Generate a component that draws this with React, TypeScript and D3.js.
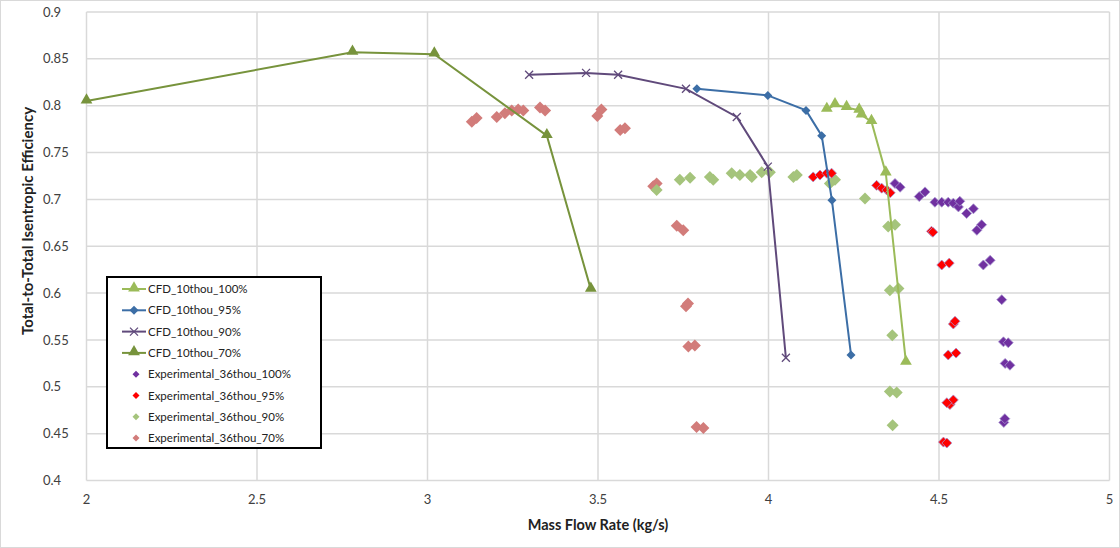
import React, { useEffect, useRef } from "react";
import * as d3 from "d3";

// ---- data ----
const cfd100X = [4.171, 4.195, 4.229, 4.266, 4.273, 4.302, 4.344, 4.403];
const cfd100Y = [0.796, 0.801, 0.798, 0.795, 0.79, 0.783, 0.728, 0.526];

const cfd95X = [3.79, 3.998, 4.11, 4.156, 4.186, 4.242];
const cfd95Y = [0.818, 0.811, 0.795, 0.768, 0.699, 0.534];

const cfd90X = [3.298, 3.465, 3.559, 3.758, 3.907, 3.998, 4.051];
const cfd90Y = [0.833, 0.835, 0.833, 0.818, 0.788, 0.735, 0.531];

const cfd70X = [2.0, 2.78, 3.02, 3.35, 3.479];
const cfd70Y = [0.805, 0.857, 0.855, 0.768, 0.604];

const exp100X = [4.371, 4.386, 4.442, 4.459, 4.488, 4.508, 4.527, 4.542, 4.557, 4.561, 4.581, 4.601, 4.611, 4.625, 4.63, 4.65, 4.684, 4.689, 4.703, 4.694, 4.708, 4.69, 4.693];
const exp100Y = [0.717, 0.713, 0.703, 0.708, 0.697, 0.697, 0.697, 0.696, 0.692, 0.698, 0.685, 0.69, 0.667, 0.673, 0.63, 0.635, 0.593, 0.548, 0.547, 0.525, 0.523, 0.462, 0.466];

const exp95X = [4.131, 4.151, 4.171, 4.185, 4.317, 4.332, 4.347, 4.357, 4.478, 4.482, 4.508, 4.53, 4.542, 4.547, 4.527, 4.55, 4.532, 4.542, 4.523, 4.513, 4.523];
const exp95Y = [0.724, 0.726, 0.728, 0.728, 0.715, 0.712, 0.71, 0.707, 0.666, 0.665, 0.63, 0.632, 0.567, 0.57, 0.534, 0.536, 0.481, 0.486, 0.483, 0.441, 0.44];

const exp90X = [3.672, 3.74, 3.77, 3.828, 3.838, 3.892, 3.916, 3.946, 3.951, 3.98, 4.004, 4.073, 4.083, 4.18, 4.195, 4.283, 4.351, 4.371, 4.356, 4.381, 4.363, 4.356, 4.376, 4.364];
const exp90Y = [0.71, 0.721, 0.723, 0.724, 0.721, 0.728, 0.726, 0.726, 0.724, 0.729, 0.729, 0.724, 0.726, 0.717, 0.721, 0.701, 0.671, 0.673, 0.603, 0.605, 0.555, 0.495, 0.494, 0.459];

const exp70X = [3.13, 3.144, 3.203, 3.227, 3.247, 3.266, 3.281, 3.33, 3.345, 3.498, 3.51, 3.565, 3.579, 3.662, 3.672, 3.731, 3.75, 3.758, 3.764, 3.765, 3.784, 3.789, 3.809];
const exp70Y = [0.783, 0.787, 0.788, 0.792, 0.795, 0.796, 0.795, 0.798, 0.795, 0.789, 0.796, 0.774, 0.776, 0.714, 0.717, 0.672, 0.667, 0.586, 0.589, 0.543, 0.544, 0.457, 0.456];

const xTicks = [2, 2.5, 3, 3.5, 4, 4.5, 5];
const yTicks = [0.4, 0.45, 0.5, 0.55, 0.6, 0.65, 0.7, 0.75, 0.8, 0.85, 0.9];

const lineSeries = [
  { name: "CFD_10thou_100%", xs: cfd100X, ys: cfd100Y, color: "#9BBB59", marker: "triangle" },
  { name: "CFD_10thou_95%", xs: cfd95X, ys: cfd95Y, color: "#3C6EA6", marker: "diamond" },
  { name: "CFD_10thou_90%", xs: cfd90X, ys: cfd90Y, color: "#604A7B", marker: "x" },
  { name: "CFD_10thou_70%", xs: cfd70X, ys: cfd70Y, color: "#77933C", marker: "triangle" },
];
const scatterSeries = [
  { name: "Experimental_36thou_100%", xs: exp100X, ys: exp100Y, color: "#7030A0", stroke: "#A795CF", size: 10 },
  { name: "Experimental_36thou_95%", xs: exp95X, ys: exp95Y, color: "#FF0000", stroke: "#A795CF", size: 10 },
  { name: "Experimental_36thou_90%", xs: exp90X, ys: exp90Y, color: "#A5C47C", stroke: "none", size: 12 },
  { name: "Experimental_36thou_70%", xs: exp70X, ys: exp70Y, color: "#D27C7A", stroke: "none", size: 12 },
];

const W = 1120;
const H = 548;

export default function App() {
  const ref = useRef<SVGSVGElement>(null);
  useEffect(() => {
    const svg = d3.select(ref.current);
    svg.selectAll("*").remove();
    const font = "Lato, 'Open Sans', sans-serif";
    const x = d3.scaleLinear().domain([2, 5]).range([86.5, 1109.5]);
    const y = d3.scaleLinear().domain([0.4, 0.9]).range([480.5, 12]);

    svg.append("rect").attr("x", 0.5).attr("y", 0.5).attr("width", W - 1).attr("height", H - 1)
      .attr("fill", "#fff").attr("stroke", "#D9D9D9");

    // gridlines
    const g = svg.append("g");
    g.selectAll("line.h").data(yTicks).join("line")
      .attr("x1", x(2)).attr("x2", x(5)).attr("y1", (d) => y(d)).attr("y2", (d) => y(d))
      .attr("stroke", "#D9D9D9").attr("stroke-width", 1.5);
    g.selectAll("line.v").data(xTicks).join("line")
      .attr("y1", y(0.4)).attr("y2", y(0.9)).attr("x1", (d) => x(d)).attr("x2", (d) => x(d))
      .attr("stroke", "#D9D9D9").attr("stroke-width", 1.5);

    // tick labels
    svg.append("g").selectAll("text").data(yTicks).join("text")
      .attr("x", 43).attr("y", (d) => y(d)).attr("dy", "0.35em")
      .attr("font-family", font).attr("font-size", 13).attr("fill", "#404040")
      .text((d) => d3.format("")(d));
    svg.append("g").selectAll("text").data(xTicks).join("text")
      .attr("x", (d) => x(d)).attr("y", 499).attr("dy", "0.35em").attr("text-anchor", "middle")
      .attr("font-family", font).attr("font-size", 13).attr("fill", "#404040")
      .text((d) => d3.format("")(d));

    // axis titles
    svg.append("text").attr("x", 598).attr("y", 525).attr("dy", "0.35em").attr("text-anchor", "middle")
      .attr("font-family", font).attr("font-weight", "bold").attr("font-size", 14.5).attr("fill", "#222")
      .text("Mass Flow Rate (kg/s)");
    svg.append("text").attr("transform", "translate(28,221) rotate(-90)").attr("dy", "0.35em")
      .attr("text-anchor", "middle").attr("font-family", font).attr("font-weight", "bold")
      .attr("font-size", 15).attr("fill", "#222").text("Total-to-Total Isentropic Efficiency");

    const tri = d3.symbol().type(d3.symbolTriangle).size(60);
    const dia = (s: number) => `M0,${-s / 2}L${s / 2},0L0,${s / 2}L${-s / 2},0Z`;

    const drawMarker = (sel: any, marker: string, color: string) => {
      if (marker === "triangle") sel.append("path").attr("d", tri()).attr("fill", color).attr("transform", "translate(0,-1)");
      else if (marker === "diamond") sel.append("path").attr("d", dia(9)).attr("fill", color);
      else sel.append("path").attr("d", "M-4,-4L4,4M-4,4L4,-4").attr("stroke", color).attr("stroke-width", 1.3).attr("fill", "none");
    };

    // scatter series
    scatterSeries.slice().reverse().forEach((s) => {
      const gg = svg.append("g");
      s.xs.forEach((xv, i) => {
        gg.append("path").attr("d", dia(s.size)).attr("transform", `translate(${x(xv)},${y(s.ys[i])})`)
          .attr("fill", s.color).attr("stroke", s.stroke).attr("stroke-width", 0.8);
      });
    });

    // line series
    lineSeries.slice().reverse().forEach((s) => {
      const pts: [number, number][] = s.xs.map((xv, i) => [x(xv), y(s.ys[i])]);
      svg.append("path").attr("d", d3.line()(pts)).attr("fill", "none").attr("stroke", s.color).attr("stroke-width", 2);
      pts.forEach((p) => {
        const m = svg.append("g").attr("transform", `translate(${p[0]},${p[1]})`);
        drawMarker(m, s.marker, s.color);
      });
    });

    // legend
    const lg = svg.append("g");
    lg.append("rect").attr("x", 107).attr("y", 277).attr("width", 214).attr("height", 171)
      .attr("fill", "#fff").attr("stroke", "#000").attr("stroke-width", 2);
    const rowY = (i: number) => 289 + i * 21.3;
    lineSeries.forEach((s, i) => {
      const yy = rowY(i);
      lg.append("line").attr("x1", 122).attr("x2", 146).attr("y1", yy).attr("y2", yy).attr("stroke", s.color).attr("stroke-width", 2);
      const m = lg.append("g").attr("transform", `translate(134,${yy})`);
      drawMarker(m, s.marker, s.color);
      lg.append("text").attr("x", 148).attr("y", yy).attr("dy", "0.35em").attr("font-family", font)
        .attr("font-size", 11.5).attr("fill", "#222").text(s.name);
    });
    scatterSeries.forEach((s, j) => {
      const yy = rowY(j + 4);
      lg.append("path").attr("d", dia(7)).attr("transform", `translate(136,${yy})`).attr("fill", s.color);
      lg.append("text").attr("x", 148).attr("y", yy).attr("dy", "0.35em").attr("font-family", font)
        .attr("font-size", 11.5).attr("fill", "#222").text(s.name);
    });
  }, []);
  return <svg ref={ref} width={W} height={H} style={{ display: "block", position: "absolute", left: 0, top: 0 }} />;
}
